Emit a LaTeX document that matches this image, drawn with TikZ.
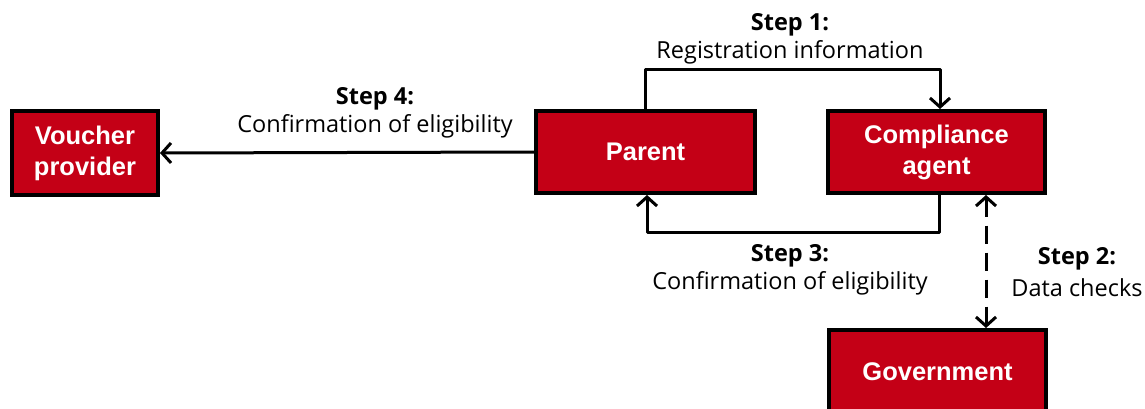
\documentclass[tikz,border=0pt]{standalone}
\usepackage{fontspec}
\setmainfont{Open Sans}
\newfontfamily\boxfont{Liberation Sans}
\usetikzlibrary{arrows.meta}
\definecolor{boxred}{RGB}{196,0,22}
\tikzset{
  box/.style={draw=black, line width=4pt, fill=boxred, text=white,
    font=\boxfont\bfseries\fontsize{25.5}{31}\selectfont, align=center, inner sep=0pt},
  boxtext/.style={text=white, font=\boxfont\bfseries\fontsize{25.5}{31}\selectfont, align=center, inner sep=0pt},
  arr/.style={line width=3pt, line join=round, -{Straight Barb[length=9pt,width=20pt,line width=3pt]}},
  lbl/.style={font=\fontsize{23.5}{28.5}\selectfont, align=center, inner sep=0pt}
}
\begin{document}
\begin{tikzpicture}[x=1pt,y=-1pt]
\useasboundingbox (0,0) rectangle (1145,409);
\node[box, minimum width=146pt, minimum height=84pt] (voucher) at (85,153) {Voucher\\provider};
\node[box, minimum width=219pt, minimum height=82pt] (parent) at (645.5,152) {\raisebox{-1pt}{Parent}};
\node[box, minimum width=217pt, minimum height=82pt] (comp) at (936.5,152) {Compliance\\agent};
\node[box, minimum width=217pt, minimum height=104pt] (gov) at (937.5,382) {};
\node[boxtext] (govtext) at (937.5,372) {Government};

\draw[arr] (parent.north) -- ++(0,-39) -| ([xshift=3.5pt]comp.north);
\draw[arr] ([xshift=2.5pt]comp.south) -- ++(0,37) -| ([xshift=1.5pt]parent.south);
\draw[arr, <->, >={Straight Barb[length=9pt,width=20pt,line width=3pt]}, dash pattern=on 18pt off 9pt]
  ([xshift=49.5pt]comp.south) -- ([xshift=48.5pt]gov.north);
\draw[arr] (parent.west) -- (voucher.east);

\node[lbl] (l1) at (790,39) {\textbf{Step 1:}\\Registration information};
\node[lbl] (l4) at (375,113) {\textbf{Step 4:}\\Confirmation of eligibility};
\node[lbl] (l3) at (790,270) {\textbf{Step 3:}\\Confirmation of eligibility};
\node[lbl, font=\fontsize{23.5}{31.5}\selectfont] (l2) at (1077,272) {\textbf{Step 2:}\\Data checks};
\end{tikzpicture}
\end{document}
